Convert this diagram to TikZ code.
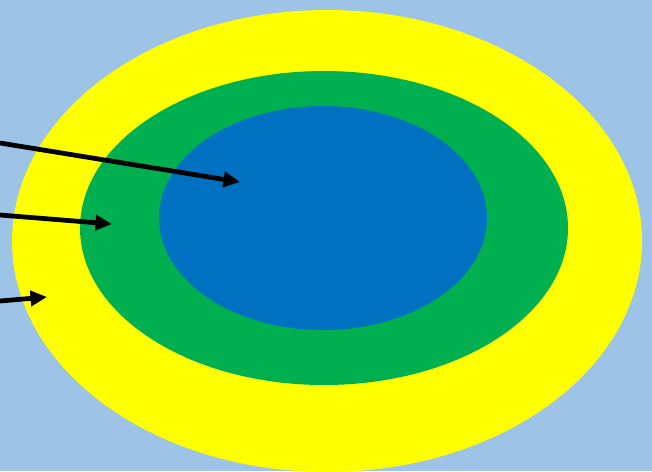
\documentclass[tikz,border=0pt]{standalone}
\usepackage{tikz}
\usetikzlibrary{arrows.meta}

\definecolor{skyback}{RGB}{157,195,230}
\definecolor{ringyellow}{RGB}{255,255,0}
\definecolor{ringgreen}{RGB}{0,176,80}
\definecolor{ringblue}{RGB}{0,112,192}

\begin{document}
\begin{tikzpicture}[
      x=0.02cm, y=-0.02cm,
      ring/.style={draw=none},
      pointer/.style={line width=0.095cm,
                      -{Triangle[length=0.33cm, width=0.3cm]}}]

    % Background (652 x 471 px, 1 px = 0.02 cm)
    \fill[skyback] (0,0) rectangle (652,471);
    \useasboundingbox (0,0) rectangle (652,471);

    % Nested ellipses
    \begin{scope}
        \clip (0,0) rectangle (652,471);
        \fill[ring, ringyellow] (327,241) ellipse [x radius=315, y radius=231];
        \fill[ring, ringgreen]  (324,228) ellipse [x radius=244, y radius=157];
        \fill[ring, ringblue]   (323,218) ellipse [x radius=164, y radius=112];
    \end{scope}

    % Arrow ends
    \coordinate (inS) at (0,143);
    \coordinate (inT) at (240,182);
    \coordinate (midS) at (0,215);
    \coordinate (midT) at (112,224);
    \coordinate (outS) at (0,301);
    \coordinate (outT) at (47,297);

    % Pointers
    \draw[pointer] (inS) -- (inT);
    \draw[pointer] (midS) -- (midT);
    \draw[pointer] (outS) -- (outT);

\end{tikzpicture}
\end{document}
